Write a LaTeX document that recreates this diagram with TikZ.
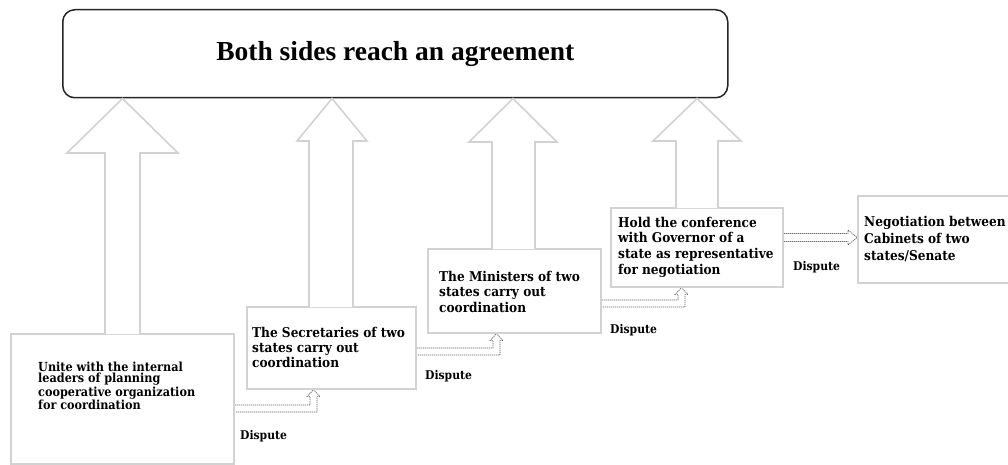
\documentclass[tikz,border=0pt]{standalone}
\usepackage{fontspec}
\setmainfont{DejaVu Serif Condensed}
\newfontfamily\titlefont{Liberation Serif}
\usetikzlibrary{calc}
\pgfdeclarelayer{background}
\pgfsetlayers{background,main}

\tikzset{
  stagebox/.style={draw=gray!35, line width=1.6pt, fill=white, inner sep=0pt, anchor=north west},
  stagetext/.style={align=left, anchor=north west, inner sep=0pt},
  uparrow/.style={draw=gray!35, line width=1.6pt, fill=white, line join=miter},
  disputearrow/.style={draw=black!60, line width=0.7pt, dash pattern=on 1.2pt off 0.8pt, fill=white},
  disputelabel/.style={anchor=base west, inner sep=0pt, font=\bfseries\fontsize{12}{15}\selectfont}
}

\begin{document}
\begin{tikzpicture}[x=1pt, y=1pt]
\clip (0,0) rectangle (1008,464);
\useasboundingbox (0,0) rectangle (1008,464);

% The stages, from the lowest level upwards
\node[stagebox, minimum width=223pt, minimum height=130pt] (unite) at (10,131) {};
\node[stagebox, minimum width=169pt, minimum height=82pt] (secr) at (246,158) {};
\node[stagebox, minimum width=173pt, minimum height=84pt] (mini) at (427,216) {};
\node[stagebox, minimum width=172pt, minimum height=79pt] (hold) at (610,257) {};
\node[stagebox, minimum width=170pt, minimum height=87pt] (nego) at (857,269) {};

% Texts inside the stages
\node[stagetext, font=\bfseries\fontsize{12.5}{11.5}\selectfont] (unitetxt) at (38,102.3) {Unite with the internal\\leaders of planning\\cooperative organization\\for coordination};
\node[stagetext, font=\bfseries\fontsize{13.5}{15}\selectfont] (secrtxt) at (252,137.2) {The Secretaries of two\\states carry out\\coordination};
\node[stagetext, font=\bfseries\fontsize{13.5}{15.5}\selectfont] (minitxt) at (439,193.2) {The Ministers of two\\states carry out\\coordination};
\node[stagetext, font=\bfseries\fontsize{13.5}{15.7}\selectfont] (holdtxt) at (618,247.2) {Hold the conference\\with Governor of a\\state as representative\\for negotiation};
\node[stagetext, font=\bfseries\fontsize{13.5}{17}\selectfont] (negotxt) at (864,248.2) {Negotiation between\\Cabinets of two\\states/Senate};

% Dispute labels
\node[disputelabel] (disp1) at (240,25) {Dispute};
\node[disputelabel] (disp2) at (425,85) {Dispute};
\node[disputelabel] (disp3) at (610,131) {Dispute};
\node[disputelabel] (disp4) at (793,194) {Dispute};

% Top box
\node[draw=black!85, rounded corners=12pt, line width=1.5pt, minimum width=665pt, minimum height=88pt,
      anchor=north west, font=\titlefont\bfseries\fontsize{27.5}{30}\selectfont] (agree) at (62,455) {Both sides reach an agreement};

% Hollow arrows up to the agreement
\foreach \src/\shl/\shr/\hdl/\hdr/\hdb in {unite/105/140/67/178/311, secr/309/353/297/367/323,
                                           mini/492/535/469/557/322, hold/676/718/653/741/323} {
  \draw[uparrow] let \p1=(\src.north), \p2=(agree.south) in
    (\shl pt,\y1-1pt) -- (\shl pt,\hdb pt) -- (\hdl pt,\hdb pt) -- ({(\hdl+\hdr)/2*1pt},\y2)
    -- (\hdr pt,\hdb pt) -- (\shr pt,\hdb pt) -- (\shr pt,\y1-1pt);
}

% Dispute arrows to the next stage
\begin{pgfonlayer}{background}
\foreach \src/\dst/\yb/\xc in {unite/secr/55.5/313.5, secr/mini/112.5/496.5, mini/hold/160.5/681.5} {
  \draw[disputearrow] let \p1=(\src.east), \p2=(\dst.south) in
    (\x1,{(\yb+3.5)*1pt}) -- ({(\xc-3.5)*1pt},{(\yb+3.5)*1pt}) -- ({(\xc-3.5)*1pt},\y2-7pt)
    -- ({(\xc-6.5)*1pt},\y2-7pt) -- (\xc pt,\y2) -- ({(\xc+6.5)*1pt},\y2-7pt)
    -- ({(\xc+3.5)*1pt},\y2-7pt) -- ({(\xc+3.5)*1pt},{(\yb-3.5)*1pt}) -- (\x1,{(\yb-3.5)*1pt});
}
\draw[disputearrow] let \p1=(hold.east), \p2=(nego.west) in
  (\x1,230.5pt) -- (\x2-9pt,230.5pt) -- (\x2-9pt,234pt) -- (\x2,226.5pt)
  -- (\x2-9pt,219pt) -- (\x2-9pt,222.5pt) -- (\x1,222.5pt);
\end{pgfonlayer}

\end{tikzpicture}
\end{document}
